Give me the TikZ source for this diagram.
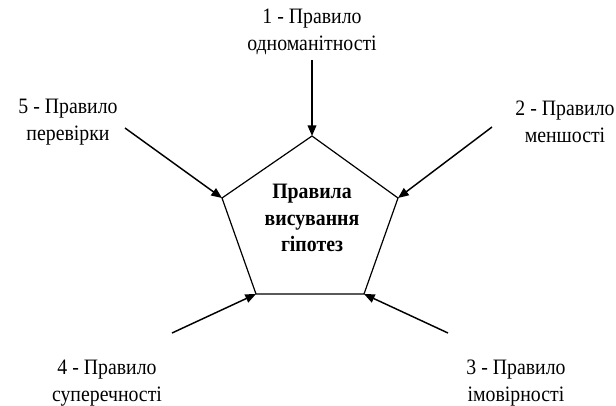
\documentclass[tikz,border=0pt]{standalone}
\usepackage{fontspec}
\setmainfont{Liberation Serif}
\newfontfamily\narrowserif[FakeStretch=0.9]{Liberation Serif}
\usetikzlibrary{arrows.meta}
\begin{document}
\begin{tikzpicture}[x=0.75pt,y=-0.75pt,
  lbl/.style={align=center,font=\narrowserif\fontsize{16.5pt}{20pt}\selectfont,inner sep=0pt},
  arr/.style={-{Triangle[length=8pt,width=6.5pt]},line width=1.1pt},
  pent/.style={draw,line width=0.9pt}]
\useasboundingbox (0,0) rectangle (616,405);
\coordinate (vt) at (312,136);
\coordinate (vr) at (398,198);
\coordinate (vbr) at (364,294);
\coordinate (vbl) at (256,294);
\coordinate (vl) at (222,198);
\draw[pent] (vt) -- (vr) -- (vbr) -- (vbl) -- (vl) -- cycle;
\node[lbl,font=\narrowserif\bfseries\fontsize{16.5pt}{20pt}\selectfont] (c) at (312,218) {Правила\\висування\\гіпотез};
\node[lbl] (l1) at (312,32) {1 - Правило\\одноманітності};
\node[lbl] (l5) at (68,122) {5 - Правило\\перевірки};
\node[lbl] (l2) at (565,122) {2 - Правило\\меншості};
\node[lbl] (l4) at (107,383) {4 - Правило\\суперечності};
\node[lbl] (l3) at (516,383) {3 - Правило\\імовірності};
\coordinate (s1) at (312,60);
\coordinate (s5) at (125,128);
\coordinate (s2) at (492,127);
\coordinate (s4) at (172,333);
\coordinate (s3) at (448,333);
\draw[arr] (s1) -- (vt);
\draw[arr] (s5) -- (vl);
\draw[arr] (s2) -- (vr);
\draw[arr] (s4) -- (vbl);
\draw[arr] (s3) -- (vbr);
\end{tikzpicture}
\end{document}
